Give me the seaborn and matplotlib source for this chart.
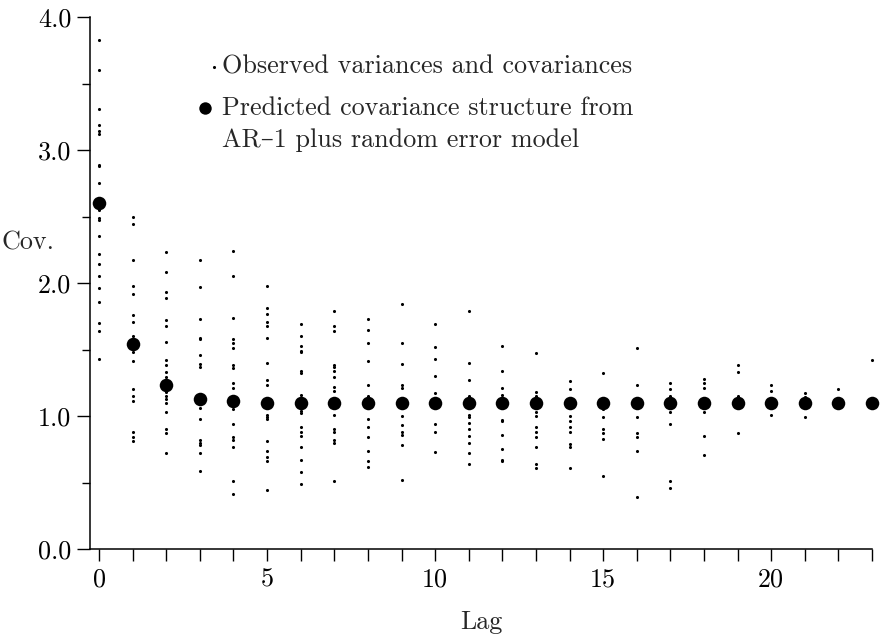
import matplotlib
matplotlib.use("Agg")
import matplotlib.pyplot as plt
import pandas as pd
import seaborn as sns
from matplotlib.ticker import MultipleLocator

# ---------------- data ----------------
lags = list(range(24))

predicted = [2.60, 1.54, 1.23, 1.13, 1.11, 1.10, 1.10, 1.10, 1.10, 1.10, 1.10, 1.10,
             1.10, 1.10, 1.10, 1.10, 1.10, 1.10, 1.10, 1.10, 1.10, 1.10, 1.10, 1.10]

observed_by_lag = [
    [3.83, 3.60, 3.31, 3.19, 3.14, 3.12, 2.89, 2.88, 2.75, 2.55, 2.49, 2.47,
     2.35, 2.22, 2.14, 2.05, 1.96, 1.86, 1.70, 1.64, 1.43],
    [2.50, 2.44, 2.17, 1.98, 1.92, 1.76, 1.71, 1.60, 1.48, 1.41, 1.20, 1.15,
     1.11, 0.88, 0.84, 0.81],
    [2.23, 2.08, 1.93, 1.89, 1.72, 1.68, 1.56, 1.42, 1.38, 1.33, 1.29, 1.26,
     1.18, 1.15, 1.13, 1.10, 1.03, 0.90, 0.87, 0.72],
    [2.17, 1.97, 1.73, 1.59, 1.58, 1.46, 1.39, 1.37, 1.06, 0.98, 0.82, 0.80,
     0.78, 0.72, 0.59],
    [2.24, 2.05, 1.74, 1.58, 1.55, 1.51, 1.38, 1.36, 1.25, 1.21, 1.05, 0.94,
     0.84, 0.82, 0.77, 0.51, 0.41],
    [1.98, 1.81, 1.77, 1.71, 1.68, 1.59, 1.40, 1.27, 1.23, 1.06, 1.01, 0.99,
     0.98, 0.81, 0.74, 0.69, 0.66, 0.44],
    [1.69, 1.60, 1.53, 1.49, 1.48, 1.34, 1.32, 1.16, 1.04, 1.02, 0.92, 0.88,
     0.85, 0.77, 0.67, 0.58, 0.49],
    [1.79, 1.68, 1.64, 1.38, 1.37, 1.34, 1.29, 1.22, 1.19, 1.01, 0.90, 0.88,
     0.82, 0.80, 0.51],
    [1.73, 1.65, 1.55, 1.41, 1.23, 1.15, 1.06, 0.98, 0.92, 0.84, 0.74, 0.66,
     0.62],
    [1.84, 1.55, 1.39, 1.23, 1.21, 1.06, 1.00, 0.93, 0.88, 0.86, 0.78, 0.52],
    [1.69, 1.52, 1.43, 1.30, 1.17, 1.06, 0.94, 0.88, 0.73],
    [1.79, 1.40, 1.27, 1.15, 1.01, 0.99, 0.95, 0.90, 0.85, 0.80, 0.72, 0.64],
    [1.53, 1.34, 1.21, 1.16, 0.97, 0.96, 0.86, 0.75, 0.67, 0.66],
    [1.47, 1.18, 1.15, 1.03, 1.00, 0.92, 0.88, 0.84, 0.77, 0.64, 0.61],
    [1.26, 1.20, 1.06, 1.00, 0.96, 0.92, 0.88, 0.79, 0.77, 0.61],
    [1.32, 1.06, 1.05, 0.99, 0.90, 0.87, 0.83, 0.55],
    [1.51, 1.23, 0.99, 0.87, 0.84, 0.74, 0.39],
    [1.25, 1.20, 1.15, 1.03, 0.94, 0.51, 0.46],
    [1.28, 1.25, 1.21, 1.03, 0.85, 0.71],
    [1.38, 1.33, 1.15, 0.87],
    [1.23, 1.19, 1.01],
    [1.17, 1.14, 0.99],
    [1.20],
    [1.42],
]

ytick_values = [0.0, 1.0, 2.0, 3.0, 4.0]
ytick_labels = ["0.0", "1.0", "2.0", "3.0", "4.0"]
xtick_values = lags
xtick_labels = [str(v) if v % 5 == 0 else "" for v in lags]

legend_observed = "Observed variances and covariances"
legend_predicted_1 = "Predicted covariance structure from"
legend_predicted_2 = "AR\u20131 plus random error model"

# ---------------- tables ----------------
obs_df = pd.DataFrame(
    [(lag, v) for lag, vals in zip(lags, observed_by_lag) for v in vals],
    columns=["Lag", "Cov"],
)
pred_df = pd.DataFrame({"Lag": lags, "Cov": predicted})

# ---------------- style ----------------
sns.set_theme(style="white")
plt.rcParams["font.family"] = ["cmr10", "DejaVu Serif"]
plt.rcParams["axes.linewidth"] = 1.1
FS = 18.8

fig = plt.figure(figsize=(8.81, 6.37), dpi=100)
ax = fig.add_axes([90 / 881, (637 - 549) / 637, (872 - 90) / 881, (549 - 17) / 637])

sns.scatterplot(data=obs_df, x="Lag", y="Cov", ax=ax, color="black", s=5,
                linewidth=0, marker="o", clip_on=False, legend=False)
sns.scatterplot(data=pred_df, x="Lag", y="Cov", ax=ax, color="black", s=95,
                linewidth=0, marker="o", clip_on=False, legend=False)

ax.set_xlim(-0.27, 23)
ax.set_ylim(0, 4)
for side in ["top", "right"]:
    ax.spines[side].set_visible(False)
for side in ["left", "bottom"]:
    ax.spines[side].set_color("black")

ax.set_yticks(ytick_values)
ax.set_yticklabels(ytick_labels, fontsize=FS)
ax.yaxis.set_minor_locator(MultipleLocator(0.5))
ax.set_xticks(xtick_values)
ax.set_xticklabels(xtick_labels, fontsize=FS)

ax.tick_params(axis="y", which="major", left=True, length=9.4, width=1.0,
               direction="out", pad=4, colors="black")
ax.tick_params(axis="y", which="minor", left=True, length=5.5, width=1.0,
               direction="out", colors="black")
ax.tick_params(axis="x", which="major", bottom=True, length=8.6, width=1.0,
               direction="out", pad=5, colors="black")

ax.set_xlabel("Lag", fontsize=FS, va="center")
ax.xaxis.set_label_coords(0.5, -0.137)
ax.set_ylabel("Cov.", fontsize=FS, rotation=0, ha="center", va="center")
ax.yaxis.set_label_coords(-0.080, 0.575)

# legend-like annotation
ax.scatter([0.159], [0.906], transform=ax.transAxes, s=5, color="black",
           linewidth=0, clip_on=False)
ax.scatter([0.147], [0.829], transform=ax.transAxes, s=80, color="black",
           linewidth=0, clip_on=False)
ax.text(0.169, 0.906, legend_observed, transform=ax.transAxes, fontsize=FS,
        ha="left", va="center")
ax.text(0.169, 0.829, legend_predicted_1, transform=ax.transAxes, fontsize=FS,
        ha="left", va="center")
ax.text(0.169, 0.769, legend_predicted_2, transform=ax.transAxes, fontsize=FS,
        ha="left", va="center")

fig.savefig("out.png", dpi=100)
